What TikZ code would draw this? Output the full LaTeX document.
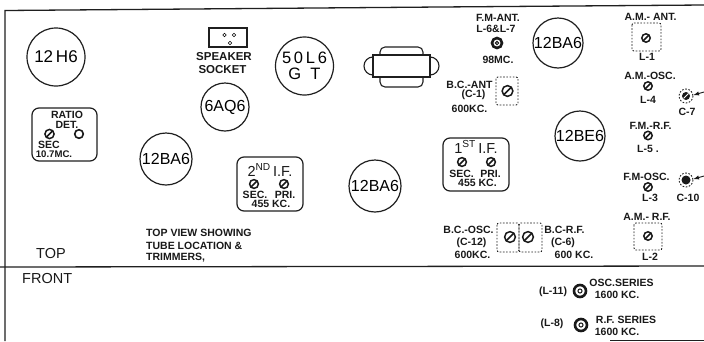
\documentclass[tikz,border=0pt]{standalone}
\usepackage{fontspec}
\setmainfont{Liberation Sans}
\tikzset{
  ink/.style={draw=black!88},
  tube/.style={circle,ink,line width=1.2pt,inner sep=0pt,align=center,font=\fontsize{16}{15}\selectfont},
  lab/.style={inner sep=0pt,text=black!90,align=center,font=\fontsize{10.5}{11}\bfseries\selectfont},
  biglab/.style={lab,font=\fontsize{14.5}{15}\selectfont},
  dbox/.style={ink,line width=.9pt,dash pattern=on 1.6pt off 1.6pt,rounded corners=2pt},
  ifbox/.style={ink,line width=1.2pt,rounded corners=7pt},
  rule/.style={ink,line width=1.3pt},
  part/.style={ink,line width=1.1pt}
}
\usetikzlibrary{calc}
\newcommand{\screw}[3]{% x, y, radius
  \draw[black!90,line width=1.5pt] (#1,#2) circle (#3+.4);
  \draw[black!90,line width=1.7pt] ($(#1,#2)+(-.75*#3,.75*#3)$) -- ($(#1,#2)+(.75*#3,-.75*#3)$);}
\newcommand{\coil}[3]{%
  \draw[black!90,line width=2.6pt] (#1,#2) circle (#3);
  \draw[black!90,line width=1pt] (#1,#2) circle (.34*#3);}
\begin{document}
\begin{tikzpicture}[x=1pt,y=-1pt]
\useasboundingbox (0,0) rectangle (704,341);
\fill[white] (0,0) rectangle (704,341);
% frame
\draw[rule] (5,341) -- (5,10.5) -- (440,7) -- (704,5);
\draw[rule] (0,267) -- (704,266);
\draw[rule] (610,340.3) -- (704,340.3);
% tubes
\node[tube,minimum size=58pt,font=\fontsize{17}{17}\selectfont] (h6) at (56,57) {12\,H6};
\node[tube,minimum size=48pt] (aq6) at (225,107) {6AQ6};
\node[tube,minimum size=52pt] (baA) at (166,159) {12BA6};
\node[tube,minimum size=58pt,font=\fontsize{16.5}{15.5}\selectfont] (l6) at (304.5,66) {5\,0\,L\,6\\G\;\;T};
\node[tube,minimum size=52pt] (baB) at (375,186) {12BA6};
\node[tube,minimum size=50pt] (baC) at (558,43) {12BA6};
\node[tube,minimum size=50pt] (be6) at (580,136) {12BE6};
% speaker socket
\draw[part] (209,28) rectangle (247,47);
\draw[line width=.6pt] (224.5,35) circle (1.8) (234,35) circle (1.8) (230,43) circle (1.8);
\node[lab,font=\fontsize{11.5}{12}\bfseries\selectfont] (spk) at (224,57) {SPEAKER};
\node[lab,font=\fontsize{11.5}{12}\bfseries\selectfont] (sck) at (222.5,70) {SOCKET};
% transformer
\draw[part,rounded corners=5pt] (380,55) -- (380,47) -- (423,47) -- (423,55);
\draw[part,rounded corners=5pt] (380,77) -- (380,87) -- (423,87) -- (423,77);
\draw[part] (373,57) arc (-90:-270:9);
\draw[part] (430,57) arc (-90:90:9);
\draw[part,fill=white] (373,55) rectangle (430,77);
% ratio detector
\draw[ifbox] (32,108) rectangle (97,161);
\node[lab] (rat) at (67,115) {RATIO};
\node[lab] (det) at (67,125) {DET.};
\screw{49.5}{134}{4.2}
\draw[line width=1.6pt,black!90] (79,134) circle (4.3);
\node[lab] (sec) at (49,145) {SEC};
\node[lab,font=\fontsize{9.6}{10}\bfseries\selectfont] (mc) at (54,154.5) {10.7MC.};
% 2nd IF
\draw[ifbox] (237,157) rectangle (303,211);
\node[biglab] (ifb) at (270,170) {2\textsuperscript{ND}\,I.F.};
\screw{254}{184}{4}\screw{284}{184}{4}
\node[lab] (secb) at (255,195) {SEC.};
\node[lab] (prib) at (285,195) {PRI.};
\node[lab] (kcb) at (271,204) {455 KC.};
% 1st IF
\draw[ifbox] (443,138) rectangle (509,191);
\node[biglab] (ifa) at (476,147) {1\textsuperscript{ST}\,I.F.};
\screw{462}{162}{4}\screw{491}{162}{4}
\node[lab] (seca) at (461.5,173.5) {SEC.};
\node[lab] (pria) at (490.5,173.5) {PRI.};
\node[lab] (kca) at (477.5,183) {455 KC.};
% caption
\node[lab,anchor=west] (capa) at (146,233) {TOP VIEW SHOWING};
\node[lab,anchor=west] (capb) at (146,246) {TUBE LOCATION \&};
\node[lab,anchor=west] (capc) at (146,258) {TRIMMERS,};
\node[biglab,anchor=west] (top) at (36,254) {TOP};
\node[biglab,anchor=west] (frt) at (22,279) {FRONT};
% FM ant
\node[lab] (fma) at (498,18) {F.M-ANT.};
\node[lab] (fmb) at (496,29) {L-6\&L-7};
\coil{497}{43}{5}
\node[lab] (fmc) at (498,60) {98MC.};
% BC ant
\node[lab] (bca) at (469.5,85) {B.C.-ANT};
\node[lab] (bcb) at (473.5,95) {(C-1)};
\node[lab] (bcc) at (469.5,109) {600KC.};
\draw[dbox] (496,77) rectangle (518,105);
\screw{507.5}{91}{5}
% AM ant
\node[lab] (ama) at (650.5,17) {A.M.- ANT.};
\draw[dbox] (632,23) rectangle (661,51);
\screw{646}{38}{3.8}
\node[lab] (amb) at (647,57) {L-1};
% AM osc
\node[lab] (aoa) at (650,76) {A.M.-OSC.};
\screw{648}{86}{3.8}
\node[lab] (aob) at (648,100) {L-4};
\draw[dbox] (686,96) circle (7);
\fill[black!90] (686,96) circle (4);
\draw[white,line width=.8pt] (683.5,98.5) -- (688.5,93.5);
\coordinate (arA) at (704,92);
\draw[-latex,line width=.9pt,black!90] (arA) -- (693.5,95);
\node[lab] (c7) at (687,112) {C-7};
% FM RF
\node[lab] (fra) at (650.5,126) {F.M.-R.F.};
\screw{648}{135.5}{3.8}
\node[lab] (frb) at (648,149) {L-5 .};
% FM osc
\node[lab] (foa) at (646.5,177) {F.M-OSC.};
\screw{648}{187}{3.8}
\node[lab] (fob) at (650,198) {L-3};
\draw[dbox] (686,180) circle (7);
\fill[black!90] (686,180) circle (4.5);
\coordinate (arB) at (704,176);
\draw[-latex,line width=.9pt,black!90] (arB) -- (693.5,179);
\node[lab] (c10) at (688,198) {C-10};
% AM RF
\node[lab] (ara) at (647,217) {A.M.- R.F.};
\draw[dbox] (634,223) rectangle (662,250);
\screw{648}{236}{3.8}
\node[lab] (arb) at (650,257) {L-2};
% BC osc / RF
\node[lab] (boa) at (468.5,230) {B.C.-OSC.};
\node[lab] (bob) at (471.5,243) {(C-12)};
\node[lab] (boc) at (472.5,255) {600KC.};
\draw[dbox] (497,223) rectangle (519,252);
\draw[dbox] (519,223) rectangle (542,252);
\screw{510}{237}{5}
\screw{528}{237}{5}
\node[lab] (bra) at (564.5,230) {B.C-R.F.};
\node[lab] (brb) at (563,243) {(C-6)};
\node[lab] (brc) at (574,255) {600 KC.};
% front trimmers
\node[lab] (lxa) at (553,292) {(L-11)};
\coil{580}{291}{6}
\node[lab] (oa) at (621.5,283) {OSC.SERIES};
\node[lab] (ob) at (617,295) {1600 KC.};
\node[lab] (lxb) at (552,324) {(L-8)};
\coil{581}{325}{6}
\node[lab] (ra) at (626,320) {R.F. SERIES};
\node[lab] (rb) at (617,332) {1600 KC.};
\end{tikzpicture}
\end{document}
